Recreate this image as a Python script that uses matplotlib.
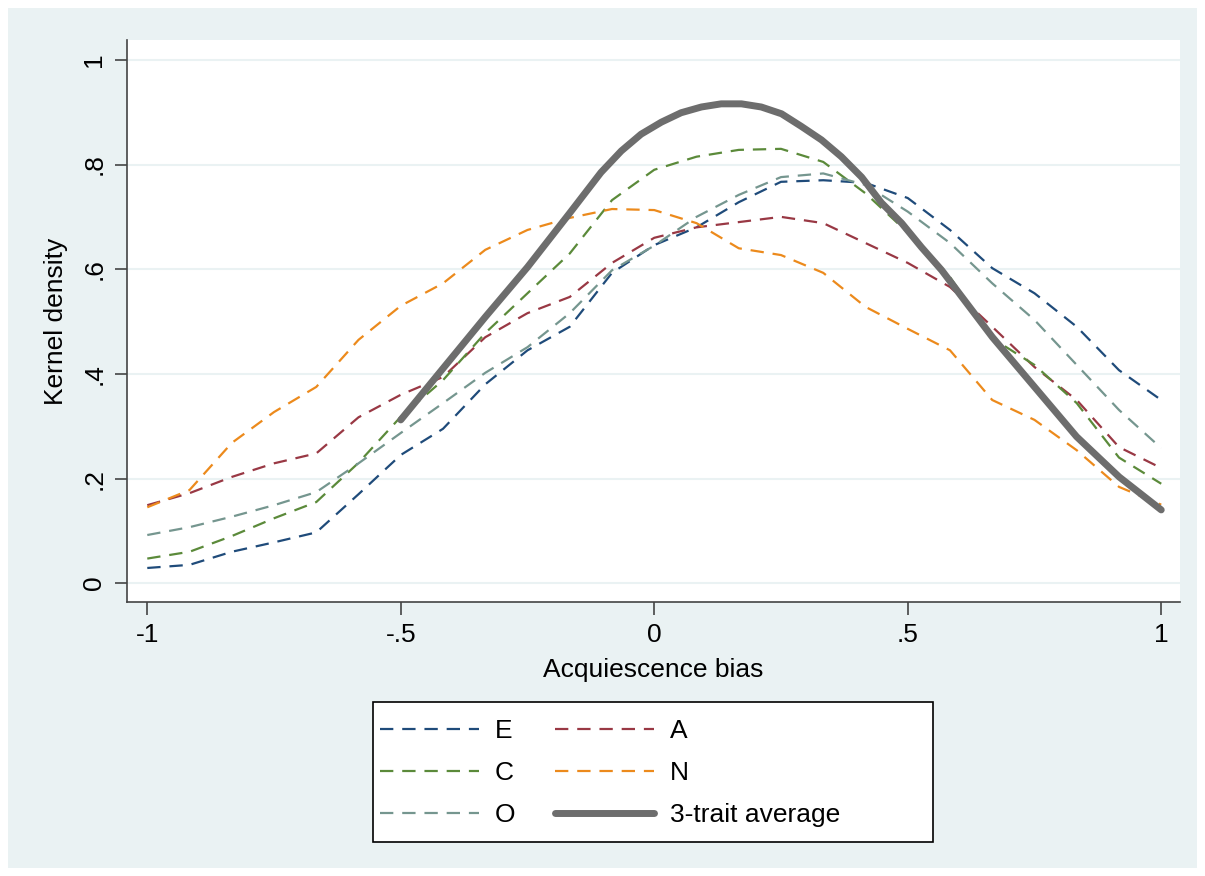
import matplotlib.pyplot as plt
import matplotlib.patches as patches
import numpy as np

plt.rcParams['font.family'] = ['Liberation Sans', 'DejaVu Sans']

# evaluation grid for the kernel densities
grid = [-1, -11/12, -10/12, -9/12, -8/12, -7/12, -6/12, -5/12, -4/12, -3/12, -2/12, -1/12, 0,
        1/12, 2/12, 3/12, 4/12, 5/12, 6/12, 7/12, 8/12, 9/12, 10/12, 11/12, 1]

dens_E = [0.029, 0.035, 0.060, 0.078, 0.097, 0.170, 0.245, 0.295, 0.380, 0.445, 0.490, 0.593, 0.646,
          0.680, 0.728, 0.767, 0.770, 0.765, 0.736, 0.675, 0.602, 0.554, 0.490, 0.407, 0.350]
dens_A = [0.149, 0.172, 0.203, 0.229, 0.248, 0.317, 0.360, 0.394, 0.470, 0.516, 0.547, 0.612, 0.660,
          0.680, 0.690, 0.700, 0.688, 0.650, 0.612, 0.566, 0.490, 0.413, 0.350, 0.260, 0.220]
dens_C = [0.047, 0.060, 0.090, 0.124, 0.155, 0.230, 0.318, 0.388, 0.478, 0.554, 0.630, 0.732, 0.790,
          0.815, 0.828, 0.830, 0.805, 0.745, 0.670, 0.585, 0.468, 0.417, 0.344, 0.240, 0.190]
dens_N = [0.145, 0.178, 0.268, 0.327, 0.375, 0.465, 0.530, 0.573, 0.637, 0.675, 0.698, 0.715, 0.713,
          0.688, 0.640, 0.627, 0.593, 0.528, 0.486, 0.445, 0.350, 0.312, 0.254, 0.184, 0.150]
dens_O = [0.092, 0.107, 0.127, 0.149, 0.174, 0.229, 0.287, 0.344, 0.402, 0.451, 0.516, 0.598, 0.645,
          0.700, 0.742, 0.776, 0.783, 0.761, 0.710, 0.650, 0.573, 0.503, 0.417, 0.331, 0.258]

# the average curve, read more densely around its peak
grid_avg = [-0.5, -0.417, -0.333, -0.25, -0.167, -0.105, -0.065, -0.026, 0.014, 0.053, 0.093,
            0.132, 0.172, 0.211, 0.251, 0.290, 0.330, 0.369, 0.409, 0.448, 0.488, 0.527, 0.567,
            0.667, 0.75, 0.833, 0.917, 1]
dens_avg = [0.312, 0.410, 0.509, 0.604, 0.707, 0.785, 0.826, 0.858, 0.881, 0.899, 0.910,
            0.916, 0.916, 0.910, 0.897, 0.873, 0.847, 0.815, 0.776, 0.727, 0.688, 0.642, 0.598,
            0.470, 0.375, 0.280, 0.203, 0.140]

labels = ['E', 'A', 'C', 'N', 'O', '3-trait average']
colors = ['#1f4b7a', '#993844', '#5b8a3a', '#ec8a1c', '#75968f', '#6d6d6d']

bg = '#eaf2f3'
fs = 19
fig = plt.figure(figsize=(12.05, 8.76), dpi=100)
fig.patch.set_facecolor('white')
fig.patches.append(patches.Rectangle((8/1205, 8/876), 1189/1205, 860/876, transform=fig.transFigure,
                                     facecolor=bg, edgecolor='none', zorder=-5))

ax = fig.add_axes([127/1205, 1-602/876, (1180-127)/1205, (602-40)/876])
ax.set_facecolor('white')

lines = {}
series = [dens_E, dens_A, dens_C, dens_N, dens_O]
for lab, col, d in zip(labels[:5], colors[:5], series):
    ln, = ax.plot(grid, d, color=col, lw=1.6, dashes=(6, 4), zorder=3)
    lines[lab] = ln
ln, = ax.plot(grid_avg, dens_avg, color=colors[5], lw=5, solid_capstyle='round',
              solid_joinstyle='round', zorder=4)
lines['3-trait average'] = ln

ax.set_xlim(-1.04, 1.037)
ax.set_ylim(-0.036, 1.038)
ax.set_xticks([-1, -0.5, 0, 0.5, 1])
ax.set_xticklabels(['-1', '-.5', '0', '.5', '1'])
ax.set_yticks([0, 0.2, 0.4, 0.6, 0.8, 1])
ax.set_yticklabels(['0', '.2', '.4', '.6', '.8', '1'], rotation=90, va='center')
ax.grid(axis='y', color=bg, lw=1.5)
ax.set_axisbelow(True)
for s in ['top', 'right']:
    ax.spines[s].set_visible(False)
for s in ['left', 'bottom']:
    ax.spines[s].set_color('#444444')
    ax.spines[s].set_linewidth(1.2)
ax.tick_params(direction='out', length=9, width=1.2, color='#444444', labelsize=fs, pad=6)

ax.set_xlabel('Acquiescence bias', fontsize=fs, labelpad=8)
ax.set_ylabel('Kernel density', fontsize=fs, labelpad=10)

# legend box drawn by hand (Stata leaves extra room on the right)
fig.patches.append(patches.Rectangle((373/1205, 1-842/876), 560/1205, 140/876,
                                     transform=fig.transFigure, facecolor='white',
                                     edgecolor='black', lw=1.2, zorder=1))
order = ['E', 'C', 'O', 'A', 'N', '3-trait average']
leg = fig.legend([lines[k] for k in order], order, ncol=2, loc='center left',
                 bbox_to_anchor=(380/1205, 1-773/876), fontsize=fs, frameon=False,
                 handlelength=3.75, handletextpad=0.6, columnspacing=1.5,
                 labelspacing=0.68, borderpad=0, borderaxespad=0)
leg.set_zorder(5)

fig.savefig('out.png', dpi=100, facecolor=fig.get_facecolor())
